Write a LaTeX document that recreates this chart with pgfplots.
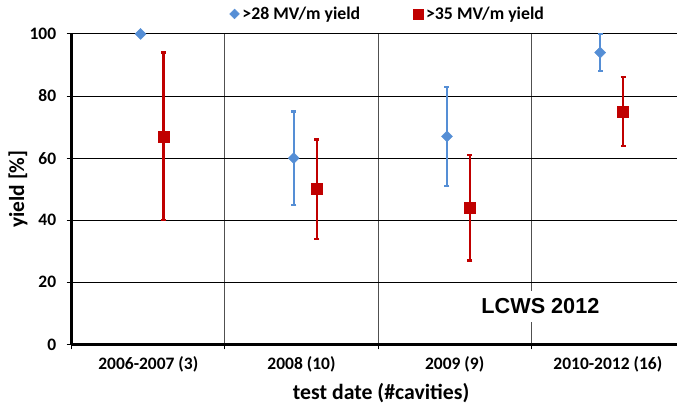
\documentclass[border=0pt]{standalone}
\usepackage{fontspec}
\setmainfont{Carlito}
\newfontfamily\arialfont{Liberation Sans}
\usepackage{pgfplots}
\pgfplotsset{compat=1.18}
\usepackage{pgfplotstable}

\definecolor{yblue}{HTML}{558ED5}
\definecolor{yred}{HTML}{C00000}
\definecolor{vgrid}{HTML}{505050}

% >28 MV/m yield (first category has no error bar)
\pgfplotstableread{
x    y   ep  em
0.95 60  15  15
1.95 67  16  16
2.95 94  6   6
}\bluetab

% >35 MV/m yield
\pgfplotstableread{
x    y   ep  em
0.1  67  27  27
1.1  50  16  16
2.1  44  17  17
3.1  75  11  11
}\redtab

\begin{document}
\begin{tikzpicture}
\begin{axis}[
    scale only axis,
    width=606.2pt, height=311pt,
    xmin=-0.5, xmax=3.45,
    ymin=0, ymax=100,
    axis x line=bottom, axis y line=left,
    axis line style={-, line width=2.5pt},
    clip=false,
    tick align=outside,
    ytick={0,20,...,100},
    ymajorgrids,
    major grid style={black, line width=1pt},
    major tick length=5pt,
    minor tick length=5pt,
    ytick style={black, line width=1pt},
    xtick={0,1,2,3},
    xticklabels={2006-2007 (3),2008 (10),2009 (9),2010-2012 (16)},
    major x tick style={draw=none},
    minor xtick={-0.5,0.5,1.5,2.5},
    minor x tick style={black, line width=1pt},
    xminorgrids,
    minor x grid style={vgrid, line width=1pt},
    /pgf/number format/assume math mode=true,
    tick label style={font=\fontsize{17.5}{20}\selectfont\bfseries},
    xticklabel style={yshift=-4pt},
    yticklabel style={xshift=-7pt},
    legend columns=2,
    legend style={
        at={(axis description cs:0,1)}, anchor=west,
        xshift=158.2pt, yshift=20pt,
        draw=none, fill=none, inner sep=0pt, outer sep=0pt,
        column sep=3pt,
        nodes={inner sep=0pt, font=\fontsize{17.8}{20}\selectfont\bfseries},
        /tikz/every even column/.append style={column sep=53pt},
    },
    legend image code/.code={\draw[only marks,#1] plot coordinates {(5pt,0pt)};},
]

\addlegendimage{mark=square*, mark options={rotate=45, draw=yblue, fill=yblue}, mark size=3.5pt}
\addlegendentry{>28 MV/m yield}
\addlegendimage{mark=square*, mark options={draw=yred, fill=yred}, mark size=5pt}
\addlegendentry{>35 MV/m yield}

% blue, error bars
\addplot[only marks, mark=square*, mark size=3.9pt,
    mark options={rotate=45, draw=yblue, fill=yblue},
    error bars/.cd, y dir=both, y explicit,
    error bar style={line width=2.2pt, yblue},
    error mark options={rotate=90, line width=2.2pt, yblue, mark size=2.5pt}]
    table[x=x, y=y, y error plus=ep, y error minus=em] {\bluetab};

% blue, first category
\addplot[only marks, mark=square*, mark size=3.9pt,
    mark options={rotate=45, draw=yblue, fill=yblue}]
    coordinates {(-0.05,100)};

% red
\addplot[only marks, mark=square*, mark size=5.5pt,
    mark options={draw=yred, fill=yred},
    error bars/.cd, y dir=both, y explicit,
    error bar style={line width=2.2pt, yred},
    error mark options={rotate=90, line width=2.2pt, yred, mark size=2.5pt}]
    table[x=x, y=y, y error plus=ep, y error minus=em] {\redtab};

\node[fill=white, inner sep=8pt, font=\arialfont\bfseries\fontsize{21.7}{26}\selectfont]
    at (axis cs:2.56,12.2) {LCWS 2012};

\node[anchor=base, font=\fontsize{21.8}{25}\selectfont\bfseries]
    at (axis cs:1.52,0) [yshift=-55pt] {test date (\#cavities)};
\node[xshift=-53.8pt, rotate=90, font=\fontsize{21.5}{25}\selectfont\bfseries]
    at (axis cs:-0.5,50) {yield [\%]};
\end{axis}
\path (-71.8pt,-64pt) (606.2pt,345pt);
\end{tikzpicture}
\end{document}
